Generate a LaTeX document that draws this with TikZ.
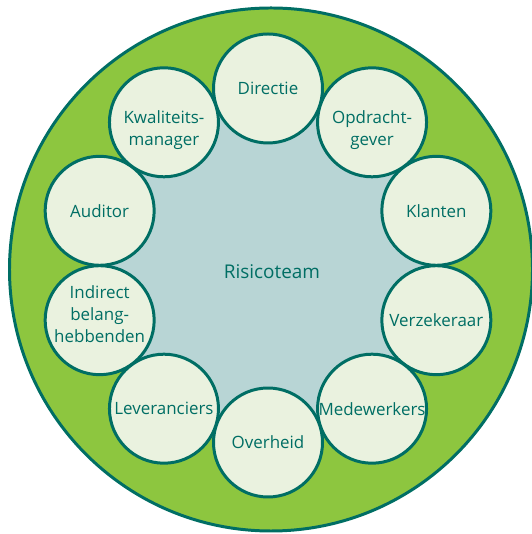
\documentclass[tikz,border=0pt]{standalone}
\usepackage{fontspec}
\setmainfont{Open Sans}

\begin{document}
\begin{tikzpicture}[x=1bp, y=1bp,
  % ---- colours -----------------------------------------------------------
  /utils/exec={%
    \definecolor{ringgreen}{RGB}{141,198, 63}%
    \definecolor{ringteal} {RGB}{  0,110,100}%
    \definecolor{coreblue} {RGB}{184,213,213}%
    \definecolor{partfill} {RGB}{234,242,223}%
  },
  % ---- one style per kind of circle ---------------------------------------
  party/.style={
    circle, draw=ringteal, line width=3pt, fill=partfill,
    minimum size=109bp, inner sep=0pt
  },
  partytxt/.style={
    align=center, inner sep=0pt, text=ringteal,
    font=\fontsize{17}{22.5}\selectfont
  },
  core/.style={text=ringteal, font=\fontsize{19}{22}\selectfont},
]
\useasboundingbox (0,0) rectangle (532,534);

% =====================================================================
%  OUTER RING and CORE
% =====================================================================
\draw[fill=ringgreen, draw=ringteal, line width=3pt] (271,264.5) circle[radius=261.5];

\coordinate (mid) at (268,268.5);
\fill[coreblue] (mid) circle[radius=172];
\node[core] (team) at (272,262) {Risicoteam};

% =====================================================================
%  PARTIES around the team, 36 degrees apart (last field: text nudge)
% =====================================================================
\foreach \nm/\ang/\txt/\dy in {
    dir/90/Directie/0,
    opd/54/{Opdracht-\\gever}/-8,
    kla/18/Klanten/0,
    ver/-18/Verzekeraar/0,
    med/-54/Medewerkers/0,
    ovh/-90/Overheid/0,
    lev/-126/Leveranciers/0,
    ind/-162/{Indirect\\belang-\\hebbenden}/6,
    aud/162/Auditor/0,
    kwa/126/{Kwaliteits-\\manager}/-8}
{
  \node[party] (\nm) at ([shift={(\ang:177)}]mid) {};
  \node[partytxt] (\nm-txt) at ([yshift=\dy]\nm.center) {\txt};
}

\end{tikzpicture}
\end{document}
